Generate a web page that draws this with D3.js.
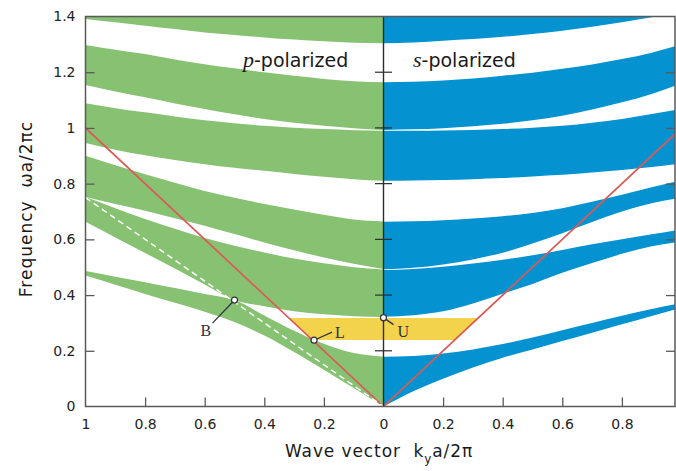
<!DOCTYPE html>
<html>
<head>
<meta charset="utf-8">
<script src="https://cdn.jsdelivr.net/npm/d3@7"></script>
<style>
  body { margin: 0; background: #fff; }
  svg { display: block; }
  text.pre { white-space: pre; }
</style>
</head>
<body>
<svg id="chart" width="676" height="471"></svg>
<script>
// Wave-vector samples (k_y a/2π) shared by every band edge
const kGrid = [0, 0.1, 0.2, 0.3, 0.4, 0.5, 0.6, 0.7, 0.8, 0.9, 1.0];

// p-polarized band edges (ωa/2πc), lower / upper, one value per kGrid entry
const p1Lo = [0, 0.066, 0.132, 0.196, 0.255, 0.303, 0.340, 0.372, 0.404, 0.437, 0.470];
const p1Hi = [0.179, 0.192, 0.225, 0.272, 0.327, 0.382, 0.404, 0.425, 0.446, 0.466, 0.486];
const p2Lo = [0.321, 0.324, 0.331, 0.342, 0.360, 0.382, 0.438, 0.495, 0.551, 0.607, 0.663];
const p2Hi = [0.492, 0.500, 0.514, 0.531, 0.553, 0.577, 0.605, 0.638, 0.673, 0.712, 0.752];
const p3Lo = [0.494, 0.512, 0.535, 0.561, 0.589, 0.619, 0.649, 0.676, 0.703, 0.727, 0.752];
const p3Hi = [0.664, 0.671, 0.688, 0.707, 0.727, 0.749, 0.774, 0.803, 0.834, 0.866, 0.900];
const p4Lo = [0.810, 0.816, 0.825, 0.835, 0.846, 0.857, 0.870, 0.885, 0.902, 0.922, 0.946];
const p4Hi = [0.990, 0.992, 0.996, 1.001, 1.008, 1.017, 1.028, 1.041, 1.056, 1.071, 1.089];
const p5Lo = [0.993, 0.999, 1.008, 1.019, 1.032, 1.049, 1.068, 1.088, 1.110, 1.131, 1.154];
const p5Hi = [1.164, 1.168, 1.176, 1.187, 1.200, 1.214, 1.229, 1.246, 1.265, 1.281, 1.298];
const p6Lo = [1.304, 1.306, 1.311, 1.317, 1.325, 1.334, 1.343, 1.355, 1.367, 1.379, 1.391];
const p6Hi = [1.45, 1.45, 1.45, 1.45, 1.45, 1.45, 1.45, 1.45, 1.45, 1.45, 1.45];

// s-polarized band edges
const s1Lo = [0, 0.055, 0.100, 0.140, 0.175, 0.205, 0.235, 0.265, 0.295, 0.325, 0.355];
const s1Hi = [0.179, 0.181, 0.190, 0.205, 0.224, 0.248, 0.274, 0.300, 0.326, 0.350, 0.372];
const s2Lo = [0.322, 0.328, 0.342, 0.370, 0.405, 0.440, 0.480, 0.515, 0.548, 0.575, 0.592];
const s2Hi = [0.490, 0.494, 0.502, 0.513, 0.527, 0.543, 0.562, 0.582, 0.600, 0.618, 0.636];
const s3Lo = [0.493, 0.498, 0.510, 0.528, 0.552, 0.585, 0.622, 0.662, 0.700, 0.730, 0.750];
const s3Hi = [0.663, 0.665, 0.669, 0.675, 0.683, 0.695, 0.712, 0.735, 0.760, 0.787, 0.812];
const s4Lo = [0.810, 0.811, 0.813, 0.816, 0.820, 0.826, 0.832, 0.840, 0.849, 0.860, 0.873];
const s4Hi = [0.990, 0.990, 0.991, 0.993, 0.996, 1.001, 1.008, 1.019, 1.032, 1.050, 1.068];
const s5Lo = [0.993, 0.995, 0.999, 1.006, 1.015, 1.028, 1.044, 1.066, 1.092, 1.122, 1.160];
const s5Hi = [1.164, 1.166, 1.170, 1.177, 1.187, 1.198, 1.212, 1.228, 1.247, 1.270, 1.300];
const s6Lo = [1.304, 1.307, 1.313, 1.319, 1.327, 1.337, 1.349, 1.363, 1.379, 1.397, 1.418];
const s6Hi = [1.45, 1.45, 1.45, 1.45, 1.45, 1.45, 1.45, 1.45, 1.45, 1.45, 1.45];

// Omnidirectional gap (bounded by the light lines)
const omniRange = [0.239, 0.318];
// Light line and Brewster line end points (k, ω)
const lightK = [0, 1];
const lightW = [0, 1];
const brewsterK = [0, 1];
const brewsterW = [0, 0.75];
// Marked points: k, ω (p side / centre)
const markNames = ["B", "L", "U"];
const markK = [0.5, 0.233, 0];
const markW = [0.382, 0.238, 0.319];

const yTicks = [0, 0.2, 0.4, 0.6, 0.8, 1, 1.2, 1.4];
const xTicksP = [1, 0.8, 0.6, 0.4, 0.2, 0];
const xTicksS = [0.2, 0.4, 0.6, 0.8];

const pBands = [[p1Lo, p1Hi], [p2Lo, p2Hi], [p3Lo, p3Hi], [p4Lo, p4Hi], [p5Lo, p5Hi], [p6Lo, p6Hi]];
const sBands = [[s1Lo, s1Hi], [s2Lo, s2Hi], [s3Lo, s3Hi], [s4Lo, s4Hi], [s5Lo, s5Hi], [s6Lo, s6Hi]];

const GREEN = "#87c172", BLUE = "#0592d0", YELLOW = "#f4d34c", RED = "#dc5a55";
const AXIS = "#5a5a5a";
const SANS = "'DejaVu Sans', sans-serif";
const SERIF = "'Liberation Serif', 'DejaVu Serif', serif";

const plotL = 85.5, plotMid = 383.5, plotR = 675, plotT = 16.5, plotB = 406.5;

const yScale = d3.scaleLinear().domain([0, 1.4]).range([plotB, plotT]);
const xP = d3.scaleLinear().domain([1, 0]).range([plotL, plotMid]);
const xS = d3.scaleLinear().domain([0, 1]).range([plotMid, plotMid + (plotMid - plotL)]);

const svg = d3.select("#chart");

svg.append("defs").append("clipPath").attr("id", "plotClip")
  .append("rect").attr("x", plotL).attr("y", plotT)
  .attr("width", plotR - plotL).attr("height", plotB - plotT);

const plot = svg.append("g").attr("clip-path", "url(#plotClip)");

function bandRows(pair) {
  return kGrid.map((k, i) => ({ k, lo: pair[0][i], hi: pair[1][i] }));
}

const areaP = d3.area()
  .x(d => xP(d.k)).y0(d => yScale(d.lo)).y1(d => yScale(d.hi))
  .curve(d3.curveMonotoneX);
const areaS = d3.area()
  .x(d => xS(d.k)).y0(d => yScale(d.lo)).y1(d => yScale(d.hi))
  .curve(d3.curveMonotoneX);

plot.append("g").selectAll("path")
  .data(pBands.map(b => bandRows(b).sort((a, c) => c.k - a.k)))
  .join("path")
  .attr("d", areaP)
  .attr("fill", GREEN);

plot.append("g").selectAll("path")
  .data(sBands.map(bandRows))
  .join("path")
  .attr("d", areaS)
  .attr("fill", BLUE);

// omnidirectional reflection range, limited by the light cone on both sides
const [wLo, wHi] = omniRange;
plot.append("path")
  .attr("d", d3.line()([
    [xP(wHi), yScale(wHi)], [xS(wHi), yScale(wHi)],
    [xS(wLo), yScale(wLo)], [xP(wLo), yScale(wLo)]
  ]) + "Z")
  .attr("fill", YELLOW);

// light lines
plot.append("path")
  .attr("d", d3.line()([
    [xP(lightK[1]), yScale(lightW[1])], [xP(lightK[0]), yScale(lightW[0])],
    [xS(lightK[1]), yScale(lightW[1])]
  ]))
  .attr("fill", "none").attr("stroke", RED).attr("stroke-width", 1.7);

// Brewster line (p side)
plot.append("path")
  .attr("d", d3.line()([
    [xP(brewsterK[1]), yScale(brewsterW[1])], [xP(brewsterK[0]), yScale(brewsterW[0])]
  ]))
  .attr("fill", "none").attr("stroke", "#ffffff").attr("stroke-width", 1.5)
  .attr("stroke-dasharray", "6,4");

// centre axis with two-sided ticks
svg.append("line")
  .attr("x1", plotMid).attr("x2", plotMid).attr("y1", plotT).attr("y2", plotB)
  .attr("stroke", "#2c2c2c").attr("stroke-width", 1.4);
svg.append("g").selectAll("line")
  .data(yTicks.filter(t => t > 0 && t < 1.4))
  .join("line")
  .attr("x1", plotMid - 8.5).attr("x2", plotMid + 8.5)
  .attr("y1", d => yScale(d)).attr("y2", d => yScale(d))
  .attr("stroke", "#2c2c2c").attr("stroke-width", 1.2);

// frame axes
const fmt = d => String(+d.toFixed(1));

const gLeft = svg.append("g").attr("transform", `translate(${plotL},0)`)
  .call(d3.axisLeft(yScale).tickValues(yTicks).tickSize(-9).tickPadding(10).tickFormat(fmt));
const gRight = svg.append("g").attr("transform", `translate(${plotR},0)`)
  .call(d3.axisRight(yScale).tickValues(yTicks).tickSize(-9).tickFormat(""));
const gBotP = svg.append("g").attr("transform", `translate(0,${plotB})`)
  .call(d3.axisBottom(xP).tickValues(xTicksP).tickSize(-9).tickPadding(13).tickFormat(fmt));
const gBotS = svg.append("g").attr("transform", `translate(0,${plotB})`)
  .call(d3.axisBottom(xS).tickValues(xTicksS).tickSize(-9).tickPadding(13).tickFormat(fmt));

[gLeft, gRight, gBotP, gBotS].forEach(g => {
  g.select(".domain").remove();
  g.selectAll(".tick line").attr("stroke", AXIS).attr("stroke-width", 1.3);
  g.selectAll(".tick text").attr("fill", "#222").attr("font-family", SANS).attr("font-size", 14);
});
gLeft.selectAll(".tick").filter(d => d === 0 || d === 1.4).select("line").remove();
gRight.selectAll(".tick").filter(d => d === 0 || d === 1.4).select("line").remove();
gBotP.selectAll(".tick").filter(d => d === 1 || d === 0).select("line").remove();

svg.append("rect")
  .attr("x", plotL).attr("y", plotT).attr("width", plotR - plotL).attr("height", plotB - plotT)
  .attr("fill", "none").attr("stroke", AXIS).attr("stroke-width", 1.5);

// marked points with leaders
const leader = { B: [-22, 23], L: [18, -8], U: [10, 7] };
const labelAt = { B: [-34, 36], L: [21, -2], U: [14, 19] };
markNames.forEach((name, i) => {
  const cx = markK[i] === 0 ? plotMid : xP(markK[i]);
  const cy = yScale(markW[i]);
  const [dx, dy] = leader[name];
  const len = Math.hypot(dx, dy);
  svg.append("line")
    .attr("x1", cx + dx * 3 / len).attr("y1", cy + dy * 3 / len)
    .attr("x2", cx + dx).attr("y2", cy + dy)
    .attr("stroke", "#2f3540").attr("stroke-width", 1.3);
  svg.append("circle")
    .attr("cx", cx).attr("cy", cy).attr("r", 3)
    .attr("fill", "#fff").attr("stroke", "#2f3540").attr("stroke-width", 1.2);
  svg.append("text")
    .attr("x", cx + labelAt[name][0]).attr("y", cy + labelAt[name][1])
    .attr("font-family", SERIF).attr("font-size", 16).attr("fill", "#2a2f3a")
    .text(name);
});

// panel titles
const tp = svg.append("text").attr("x", 243).attr("y", 66.5)
  .attr("font-family", SANS).attr("font-size", 19).attr("fill", "#1a1a1a");
tp.append("tspan").attr("font-family", SERIF).attr("font-style", "italic").attr("font-size", 22).text("p");
tp.append("tspan").text("-polarized");

const ts = svg.append("text").attr("x", 413).attr("y", 66.5)
  .attr("font-family", SANS).attr("font-size", 19).attr("fill", "#1a1a1a");
ts.append("tspan").attr("font-family", SERIF).attr("font-style", "italic").attr("font-size", 22).text("s");
ts.append("tspan").text("-polarized");

// axis titles
const xt = svg.append("text").attr("class", "pre").attr("x", 379).attr("y", 456.5)
  .attr("text-anchor", "middle").attr("font-family", SANS).attr("font-size", 17)
  .attr("letter-spacing", 0.9).attr("fill", "#1a1a1a");
xt.append("tspan").text("Wave vector  k");
xt.append("tspan").attr("font-size", 12).attr("dy", 6).text("y");
xt.append("tspan").attr("dy", -6).text("a/2\u03c0");

svg.append("text").attr("class", "pre")
  .attr("transform", "translate(32,209) rotate(-90)")
  .attr("text-anchor", "middle").attr("font-family", SANS).attr("font-size", 17)
  .attr("letter-spacing", 1).attr("fill", "#1a1a1a")
  .text("Frequency  \u03c9a/2\u03c0c");
</script>
</body>
</html>
